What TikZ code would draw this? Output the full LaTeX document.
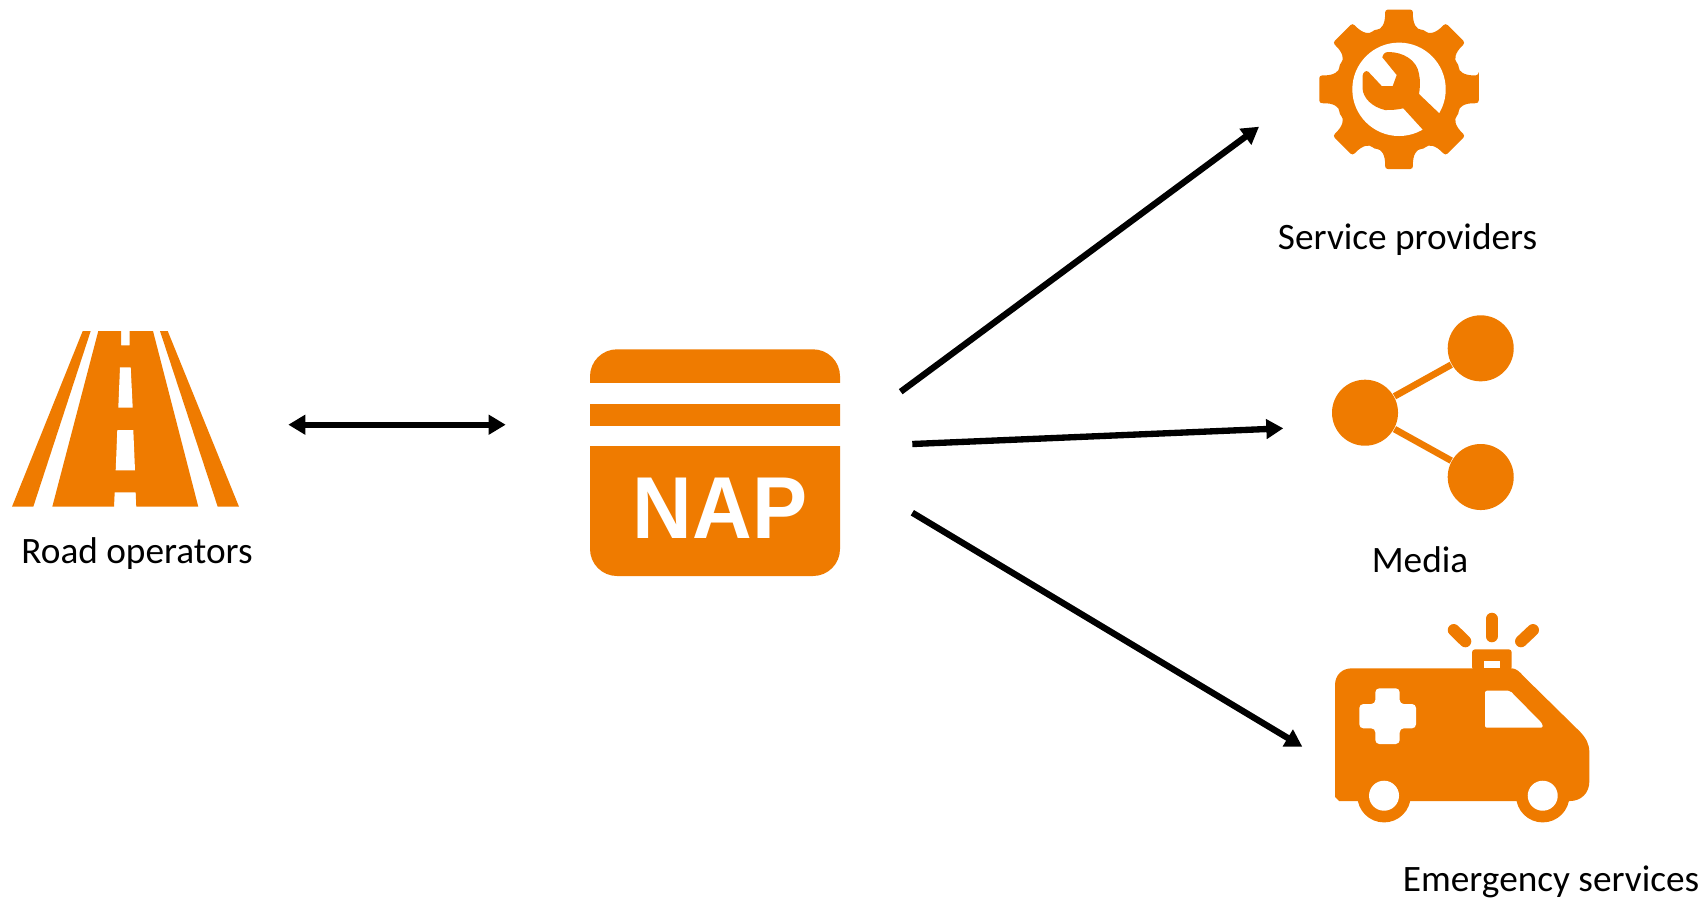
\documentclass[tikz,border=0pt]{standalone}
\usepackage{fontspec}
\usetikzlibrary{arrows.meta}
\setmainfont{Carlito}
\newfontfamily\napfont{Liberation Sans}
\definecolor{iconorange}{HTML}{EF7B00}
\tikzset{
	iconfill/.style={fill=iconorange},
	holefill/.style={fill=white},
	iconlabel/.style={anchor=base,text=black,inner sep=0pt,font=\fontsize{10.6}{12}\selectfont},
	flowline/.style={line width=1.8pt,-{Triangle[length=1.7mm,width=1.9mm]}},
	dot/.style={circle,fill=iconorange,inner sep=0pt,minimum size=0.66cm},
}

\begin{document}
\begin{tikzpicture}[x=0.01cm,y=-0.01cm]
	\useasboundingbox (0,0) rectangle (1707,899);

	% road
	\fill[iconfill] (82.7,331) -- (90.7,331) -- (33.3,506.7) -- (12,506.7) -- cycle;
	\fill[iconfill] (98.3,331) -- (121,331) -- (121,345.3) -- (129.7,345.3) -- (129.7,331) -- (153,331) -- (198.3,506.7) -- (136.3,506.7) -- (135.7,492.3) -- (114.7,492.3) -- (114,506.7) -- (52.3,506.7) -- cycle;
	\fill[holefill] (120,367.3) -- (130.7,367.3) -- (132.7,407.7) -- (118.3,407.7) -- cycle;
	\fill[holefill] (117.3,430) -- (133.3,430) -- (135,470.3) -- (115.7,470.3) -- cycle;
	\fill[iconfill] (160,331) -- (167.7,331) -- (239,506.7) -- (217.7,506.7) -- cycle;
	\node[iconlabel] (roadlabel) at (137,563) {Road operators};

	% nap card
	\fill[iconfill,rounded corners=0.27cm] (590,349.3) rectangle (840,576);
	\fill[holefill] (589,383.3) rectangle (841,404);
	\fill[holefill] (589,426) rectangle (841,446);
	\node[anchor=base,text=white,inner sep=0pt,xscale=0.94,font=\napfont\bfseries\fontsize{25}{28}\selectfont] (naplabel) at (720,538.3) {NAP};

	% gear with wrench
	\fill[iconfill,shift={(1399,89.3)},rounded corners=0.03cm] (-10:81) \foreach \a in {0,45,...,315} {
		-- (\a+10:81) .. controls (\a+11.7:66) and (\a+17:62.5) .. (\a+22.5:64.7) .. controls (\a+28:62.5) and (\a+33.3:66) .. (\a+35:81)
	} -- cycle;
	\fill[holefill] (1399,89.3) circle (46.7);
	\fill[iconfill] (1382.3,57.3) .. controls (1383,54) and (1385,52) .. (1388.3,52) .. controls (1403,52) and (1417,60) .. (1419,74) .. controls (1420.5,81) and (1420,88) .. (1419,94) -- (1441,115) -- (1424,131) -- (1403.3,108.3) .. controls (1396,110) and (1391,110) .. (1385,110) .. controls (1372,107) and (1363,98) .. (1362.5,88.3) -- (1362.5,76) .. controls (1363,72) and (1366,70) .. (1368.3,71.7) -- (1381.7,86) -- (1392.7,86) -- (1396.7,75) -- cycle;
	\node[iconlabel] (servicelabel) at (1407.5,249.5) {Service providers};

	% share icon
	\node[dot] (hub) at (1365,412.7) {};
	\node[dot] (topdot) at (1480.7,348.3) {};
	\node[dot] (bottomdot) at (1480.7,477) {};
	\draw[iconorange,line width=1.9pt] (hub) -- (topdot);
	\draw[iconorange,line width=1.9pt] (hub) -- (bottomdot);
	\node[iconlabel] (medialabel) at (1420,572.5) {Media};

	% ambulance
	\fill[iconfill] (1335,685) .. controls (1335,675) and (1342,668.3) .. (1352,668.3) -- (1511.7,668.3) .. controls (1516,668.3) and (1520,672) .. (1523.3,676) -- (1580,731.7) .. controls (1586,738) and (1589.3,744) .. (1589.3,752) -- (1589.3,781.7) .. controls (1589.3,793) and (1581,801) .. (1570,801) -- (1339,801) -- (1335,797) -- cycle;
	\fill[iconfill] (1384,795.7) circle (26.7);
	\fill[iconfill] (1542.7,795.7) circle (26.7);
	\fill[holefill] (1384,795.7) circle (15);
	\fill[holefill] (1542.7,795.7) circle (15);
	\fill[holefill,rounded corners=0.04cm] (1375.3,688.3) -- (1399.7,688.3) -- (1399.7,704) -- (1416,704) -- (1416,728.3) -- (1399.7,728.3) -- (1399.7,744) -- (1375.3,744) -- (1375.3,728.3) -- (1359.3,728.3) -- (1359.3,704) -- (1375.3,704) -- cycle;
	\fill[holefill,rounded corners=0.02cm] (1485,690.7) -- (1510,690.7) -- (1542.7,724) -- (1542.7,727.7) -- (1485,727.7) -- cycle;
	\fill[iconfill,rounded corners=0.03cm] (1472,670) -- (1472,649.3) -- (1511.7,649.3) -- (1511.7,670) -- cycle;
	\fill[holefill] (1483.7,661) rectangle (1500,668.3);
	\draw[iconorange,line width=3.4pt,line cap=round] (1491.7,618.7) -- (1491.7,636.3);
	\draw[iconorange,line width=3.4pt,line cap=round] (1453.7,630) -- (1465.3,641.3);
	\draw[iconorange,line width=3.4pt,line cap=round] (1533,630) -- (1521,641.3);
	\node[iconlabel] (emergencylabel) at (1551,891.6) {Emergency services};

	% flows
	\coordinate (roadend) at (288.3,424.7);
	\coordinate (napleft) at (505.7,424.7);
	\coordinate (naptop) at (900.7,391.7);
	\coordinate (napmid) at (912.3,444);
	\coordinate (naplow) at (912.3,512.7);
	\coordinate (serviceend) at (1259,126.7);
	\coordinate (mediaend) at (1283.3,428.3);
	\coordinate (emergencyend) at (1302.3,746.7);
	\draw[flowline,{Triangle[length=1.7mm,width=1.9mm]}-{Triangle[length=1.7mm,width=1.9mm]}] (roadend) -- (napleft);
	\draw[flowline] (naptop) -- (serviceend);
	\draw[flowline] (napmid) -- (mediaend);
	\draw[flowline] (naplow) -- (emergencyend);
\end{tikzpicture}
\end{document}
